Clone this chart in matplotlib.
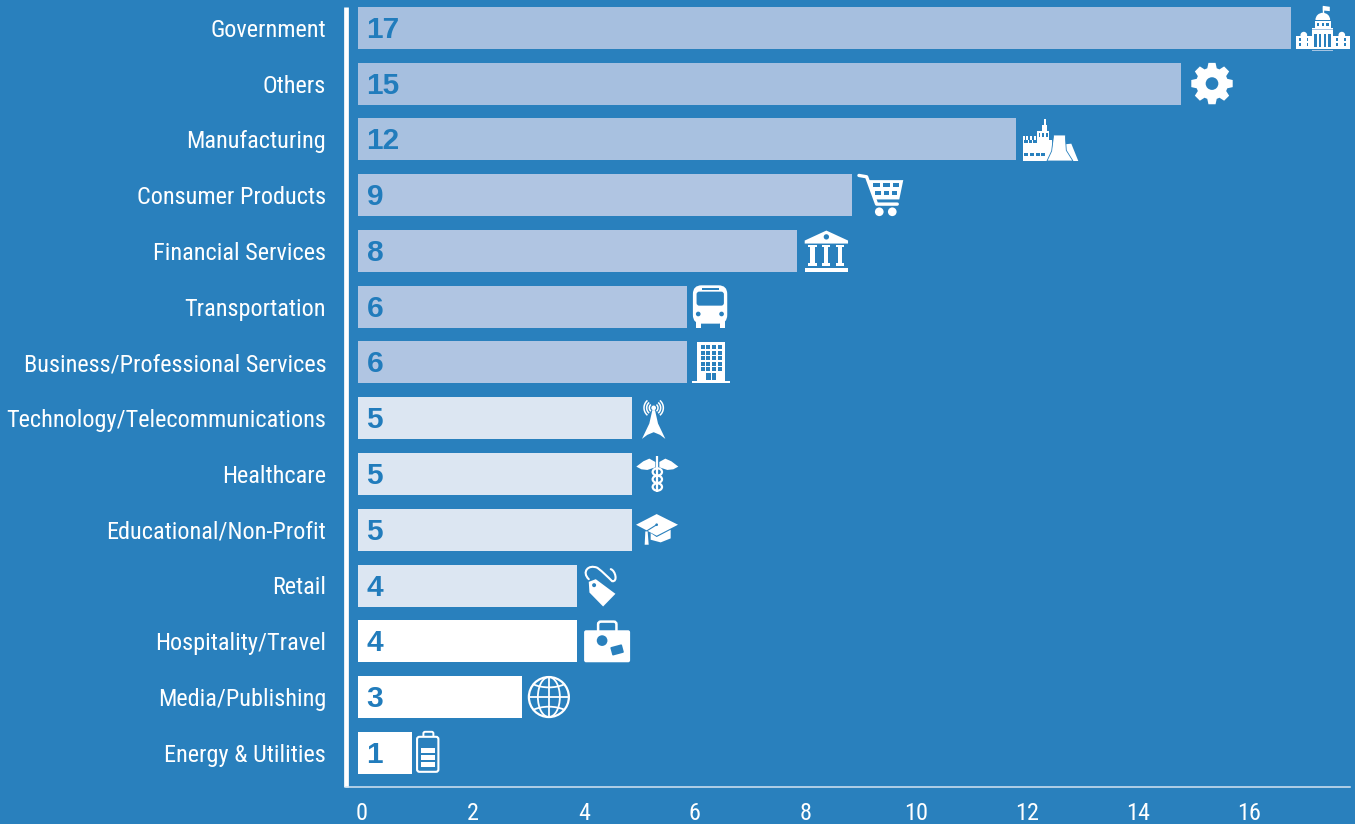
#!/usr/bin/env python
# encoding: utf-8

import matplotlib
matplotlib.use('Agg')
import matplotlib.pyplot as plt
import numpy as np
from matplotlib.patches import Circle, Ellipse, FancyBboxPatch, PathPatch, Polygon, Rectangle
from matplotlib.path import Path
from matplotlib.transforms import Affine2D

categories = ['Government', 'Others', 'Manufacturing', 'Consumer Products', 'Financial Services',
              'Transportation', 'Business/Professional Services', 'Technology/Telecommunications',
              'Healthcare', 'Educational/Non-Profit', 'Retail', 'Hospitality/Travel',
              'Media/Publishing', 'Energy & Utilities']
values = [17, 15, 12, 9, 8, 6, 6, 5, 5, 5, 4, 4, 3, 1]
bar_colors = ['#a6bfdf', '#a6bfdf', '#a8c1e0', '#b0c5e2', '#b0c5e2', '#b0c5e2', '#b0c5e2',
              '#dce6f2', '#dce6f2', '#dce6f2', '#dce6f2', '#ffffff', '#ffffff', '#ffffff']
tick_values = [0, 2, 4, 6, 8, 10, 12, 14, 16]

BG = '#2980bd'
INK = '#217cbc'
WHITE = '#ffffff'
W, H = 1355, 824

# axes box and scales, in pixels
LEFT, RIGHT, TOP, BOTTOM = 345.6, 1350, 7, 787
X0, XSCALE = 357.5, 54.9
TICK_X0, TICK_SCALE = 362, 55.44
Y0, YSCALE = 27.8, 55.77

LABEL_FONT = ['Liberation Sans Narrow', 'Roboto Condensed', 'Liberation Sans']


class Pen:
    """Draws on a local grid of 3 units per pixel with y going down."""

    def __init__(self, ax, value, row, ox, oy):
        px, py = ax.transData.transform((value, row))
        self.ax = ax
        self.tr = Affine2D().translate(-ox, -oy).scale(1 / 3, -1 / 3).translate(px, py)

    def add(self, patch):
        patch.set_transform(self.tr)
        patch.set_clip_on(False)
        patch.set_zorder(5)
        self.ax.add_patch(patch)

    def rect(self, x0, y0, x1, y1, c=WHITE):
        self.add(Rectangle((x0, y0), x1 - x0, y1 - y0, fc=c, ec='none'))

    def round_rect(self, x0, y0, x1, y1, r=6, fc=WHITE, ec='none', lw=0):
        self.add(FancyBboxPatch((x0 + r, y0 + r), x1 - x0 - 2 * r, y1 - y0 - 2 * r,
                                boxstyle='round,pad=%f,rounding_size=%f' % (r, r),
                                fc=fc, ec=ec, lw=lw))

    def poly(self, pts, c=WHITE, ec='none', lw=0):
        self.add(Polygon(pts, closed=True, fc=c, ec=ec, lw=lw))

    def circle(self, x, y, r, c=WHITE):
        self.add(Circle((x, y), r, fc=c, ec='none'))

    def ring(self, x, y, w, h, lw=1.4, c=WHITE):
        self.add(Ellipse((x, y), w, h, fc='none', ec=c, lw=lw))

    def line(self, pts, lw=1.4, c=WHITE, cap='butt'):
        codes = [Path.MOVETO] + [Path.LINETO] * (len(pts) - 1)
        self.add(PathPatch(Path(pts, codes), fc='none', ec=c, lw=lw, capstyle=cap, joinstyle='round'))

    def curve(self, pts, lw=1.4, c=WHITE):
        codes = [Path.MOVETO] + [Path.CURVE4] * (len(pts) - 1)
        self.add(PathPatch(Path(pts, codes), fc='none', ec=c, lw=lw, capstyle='round'))

    def arc(self, x, y, r, a0, a1, lw=1.1):
        a = np.radians(np.linspace(a0, a1, 24))
        self.line(np.column_stack([x + r * np.cos(a), y + r * np.sin(a)]), lw=lw)


def icon_government(p):
    p.rect(894, 108, 1056, 148)
    p.rect(943, 85, 1007, 148)
    p.rect(951, 62, 999, 85)
    p.add(Ellipse((975, 60), 44, 42, fc=WHITE, ec='none'))
    p.rect(951, 60, 999, 64, BG)
    p.rect(951, 64, 999, 85)
    p.line([(975, 18), (975, 40)], lw=1)
    p.poly([(975, 18), (996, 21), (996, 34), (975, 32)])
    p.add(Ellipse((918, 106), 20, 20, fc=WHITE, ec='none'))
    p.add(Ellipse((1032, 106), 20, 20, fc=WHITE, ec='none'))
    for x in (958, 972, 986):
        p.rect(x, 69, x + 7, 79, BG)
    p.rect(943, 88, 1007, 92, '#a6c4e2')
    for x in (950, 964, 978, 992):
        p.rect(x, 104, x + 7, 142, BG)
    for x in (904, 927, 1015, 1040):
        p.rect(x, 115, x + 5, 124, BG)
        p.rect(x, 131, x + 5, 140, BG)
    p.rect(943, 151, 1007, 153, '#a6c4e2')
    p.rect(947, 156, 1003, 158, '#7fadd6')


def icon_gear(p):
    cx, cy = 636, 252
    pts = []
    for i in range(8):
        a = np.pi / 4 * i
        for da, r in ((-0.30, 48), (-0.17, 63), (0.17, 63), (0.30, 48)):
            pts.append((cx + r * np.cos(a + da), cy + r * np.sin(a + da)))
    p.poly(pts)
    p.circle(cx, cy, 19, BG)


def icon_factory(p):
    p.poly([(192, 432), (213, 430), (234, 482), (205, 482)])
    p.rect(67, 418, 155, 482)
    for x in (67, 78, 89, 100):
        p.rect(x, 408, x + 6, 418)
    p.rect(110, 393, 147, 418)
    p.rect(125, 375, 140, 393)
    p.rect(130, 357, 136, 375)
    for x in (115, 126, 137):
        p.rect(x, 397, x + 5, 411, BG)
    for x in (72, 86, 99):
        p.rect(x, 420, x + 10, 429, BG)
    for x in (72, 90, 106, 122):
        p.rect(x, 458, x + 12, 468, BG)
    p.poly([(140, 482), (154, 452), (160, 404), (195, 404), (198, 450), (218, 482)], ec=BG, lw=0.6)


def icon_cart(p):
    p.line([(715, 16), (738, 20), (768, 102), (830, 102)], lw=2.4, cap='round')
    p.poly([(745, 30), (848, 30), (836, 88), (762, 88)])
    for x0, x1 in ((757, 778), (787, 808), (816, 836)):
        p.rect(x0, 40, x1, 52, BG)
    for x0, x1 in ((764, 782), (789, 805), (813, 830)):
        p.rect(x0, 62, x1, 76, BG)
    p.circle(776, 125, 13)
    p.circle(815, 125, 13)


def icon_bank(p):
    p.poly([(555, 212), (620, 182), (685, 212), (685, 221), (555, 221)])
    p.circle(620, 201, 8, BG)
    for x in (566, 606, 648):
        p.rect(x, 224, x + 26, 231)
        p.rect(x + 6, 231, x + 20, 280)
        p.rect(x, 280, x + 26, 289)
    p.rect(555, 293, 685, 306)


def icon_bus(p):
    p.rect(221, 450, 237, 474)
    p.rect(293, 450, 309, 474)
    p.round_rect(213, 347, 316, 462, r=26)
    p.round_rect(224, 366, 306, 408, r=8, fc=BG)
    p.rect(241, 356, 290, 362, BG)
    p.circle(229, 433, 7, BG)
    p.circle(299, 433, 7, BG)


def icon_office(p):
    p.rect(226, 515, 309, 632)
    p.rect(211, 632, 324, 639)
    for row, y in enumerate((525, 542, 558, 574, 591)):
        for x in (236, 253, 270, 287):
            p.rect(x, y, x + 12, y + 12, BG)
    p.rect(253, 608, 266, 630, BG)
    p.rect(270, 608, 283, 630, BG)


def icon_antenna(p):
    p.poly([(246, 146), (268, 100), (277, 60), (285, 60), (294, 100), (316, 146),
            (300, 134), (281, 126), (262, 134)])
    p.circle(281, 53, 7)
    for r in (13, 21, 29):
        p.arc(281, 53, r, 130, 230)
        p.arc(281, 53, r, -50, 50)


def icon_caduceus(p):
    p.poly([(229, 230), (250, 214), (268, 206), (286, 216), (286, 232), (262, 240), (244, 238)])
    p.poly([(355, 230), (334, 214), (316, 206), (298, 216), (298, 232), (322, 240), (340, 238)])
    p.line([(292, 198), (292, 306)], lw=1.6)
    for y in (246, 268, 291):
        p.ring(292, y, 28, 22, lw=1.6)


def icon_cap(p):
    p.poly([(272, 430), (290, 442), (332, 420), (332, 446), (302, 458), (272, 450)])
    p.poly([(228, 405), (290, 373), (354, 405), (290, 438)])
    p.line([(290, 405), (258, 425)], lw=0.8, c=BG)
    p.circle(290, 405, 4, BG)
    p.poly([(256, 425), (263, 425), (266, 465), (254, 465)])


def icon_tag(p):
    p.poly([(92, 574), (113, 566), (172, 610), (135, 648), (94, 606)])
    p.circle(108, 584, 6, BG)
    p.curve([(92, 566), (70, 545), (90, 520), (118, 532),
             (135, 545), (150, 560), (162, 572),
             (180, 575), (172, 540), (158, 536)], lw=1.5)


def icon_suitcase(p):
    p.round_rect(810, 34, 865, 75, r=8, fc='none', ec=WHITE, lw=1.8)
    p.round_rect(768, 60, 906, 156, r=6)
    p.circle(822, 91, 16, BG)
    sticker = FancyBboxPatch((-15, -10), 30, 20, boxstyle='round,pad=3,rounding_size=3', fc=BG, ec='none')
    sticker.set_transform(Affine2D().rotate_deg(-15).translate(867, 119) + p.tr)
    sticker.set_clip_on(False)
    sticker.set_zorder(5)
    p.ax.add_patch(sticker)


def icon_globe(p):
    cx, cy, r = 665, 261, 60
    p.ring(cx, cy, 2 * r, 2 * r, lw=1.6)
    p.ring(cx, cy, 66, 2 * r, lw=1.3)
    p.line([(cx, cy - r), (cx, cy + r)], lw=1.3)
    p.line([(cx - r, cy), (cx + r, cy)], lw=1.3)
    p.curve([(cx - 46, cy - 38), (cx - 20, cy - 26), (cx + 20, cy - 26), (cx + 46, cy - 38)], lw=1.3)
    p.curve([(cx - 46, cy + 38), (cx - 20, cy + 26), (cx + 20, cy + 26), (cx + 46, cy + 38)], lw=1.3)


def icon_battery(p):
    p.round_rect(285, 366, 315, 384, r=5, fc='none', ec=WHITE, lw=1.4)
    p.round_rect(266, 381, 330, 486, r=7, fc=BG, ec=WHITE, lw=1.5)
    for y0, y1 in ((414, 431), (435, 452), (456, 473)):
        p.rect(279, y0, 319, y1)


# one drawing routine per row, with the spot of the bar end on its local grid
icons = [(icon_government, 879, 84), (icon_gear, 543, 252), (icon_factory, 48, 417),
         (icon_cart, 693, 75), (icon_bank, 531, 243), (icon_bus, 195, 411), (icon_office, 195, 576),
         (icon_antenna, 216, 84), (icon_caduceus, 216, 252), (icon_cap, 216, 420), (icon_tag, 57, 585),
         (icon_suitcase, 747, 93), (icon_globe, 585, 261), (icon_battery, 252, 429)]


def main():
    fig = plt.figure(figsize=(W / 100, H / 100), dpi=100, facecolor=BG)
    rect = [LEFT / W, 1 - BOTTOM / H, (RIGHT - LEFT) / W, (BOTTOM - TOP) / H]
    ax = fig.add_axes(rect, facecolor='none')

    rows = np.arange(len(values))
    ax.barh(rows, values, height=42 / YSCALE, color=bar_colors, linewidth=0)
    ax.set_xlim((LEFT - X0) / XSCALE, (RIGHT - X0) / XSCALE)
    ax.set_ylim((BOTTOM - Y0) / YSCALE, (TOP - Y0) / YSCALE)

    ax.set_yticks(rows, categories, family=LABEL_FONT, fontsize=17.45, color=WHITE)
    ax.tick_params(axis='y', length=0, pad=14)
    ax.xaxis.set_visible(False)

    for side in ('top', 'right'):
        ax.spines[side].set_visible(False)
    ax.spines['left'].set_color(WHITE)
    ax.spines['left'].set_linewidth(3.4)
    ax.spines['left'].set_capstyle('butt')
    ax.spines['bottom'].set_color('#d4e4f2')
    ax.spines['bottom'].set_linewidth(1.1)

    for row, v in zip(rows, values):
        ax.annotate(str(v), (0, row), xytext=(9, -2), textcoords='offset pixels', ha='left', va='center',
                    family='Liberation Sans', weight='bold', fontsize=21.5, color=INK)

    # the numbered scale runs on its own axis underneath the bars
    scale_ax = ax.twiny()
    scale_ax.set_xlim((LEFT - TICK_X0) / TICK_SCALE, (RIGHT - TICK_X0) / TICK_SCALE)
    scale_ax.xaxis.set_ticks_position('bottom')
    scale_ax.set_xticks(tick_values, [str(t) for t in tick_values], family=LABEL_FONT, fontsize=17.45, color=WHITE)
    scale_ax.tick_params(axis='x', length=0, pad=10.5)
    for spine in scale_ax.spines.values():
        spine.set_visible(False)

    for (draw, ox, oy), v, row in zip(icons, values, rows):
        draw(Pen(ax, v, row, ox, oy))

    fig.savefig('out.png', dpi=100, facecolor=BG)


if __name__ == '__main__':
    main()
